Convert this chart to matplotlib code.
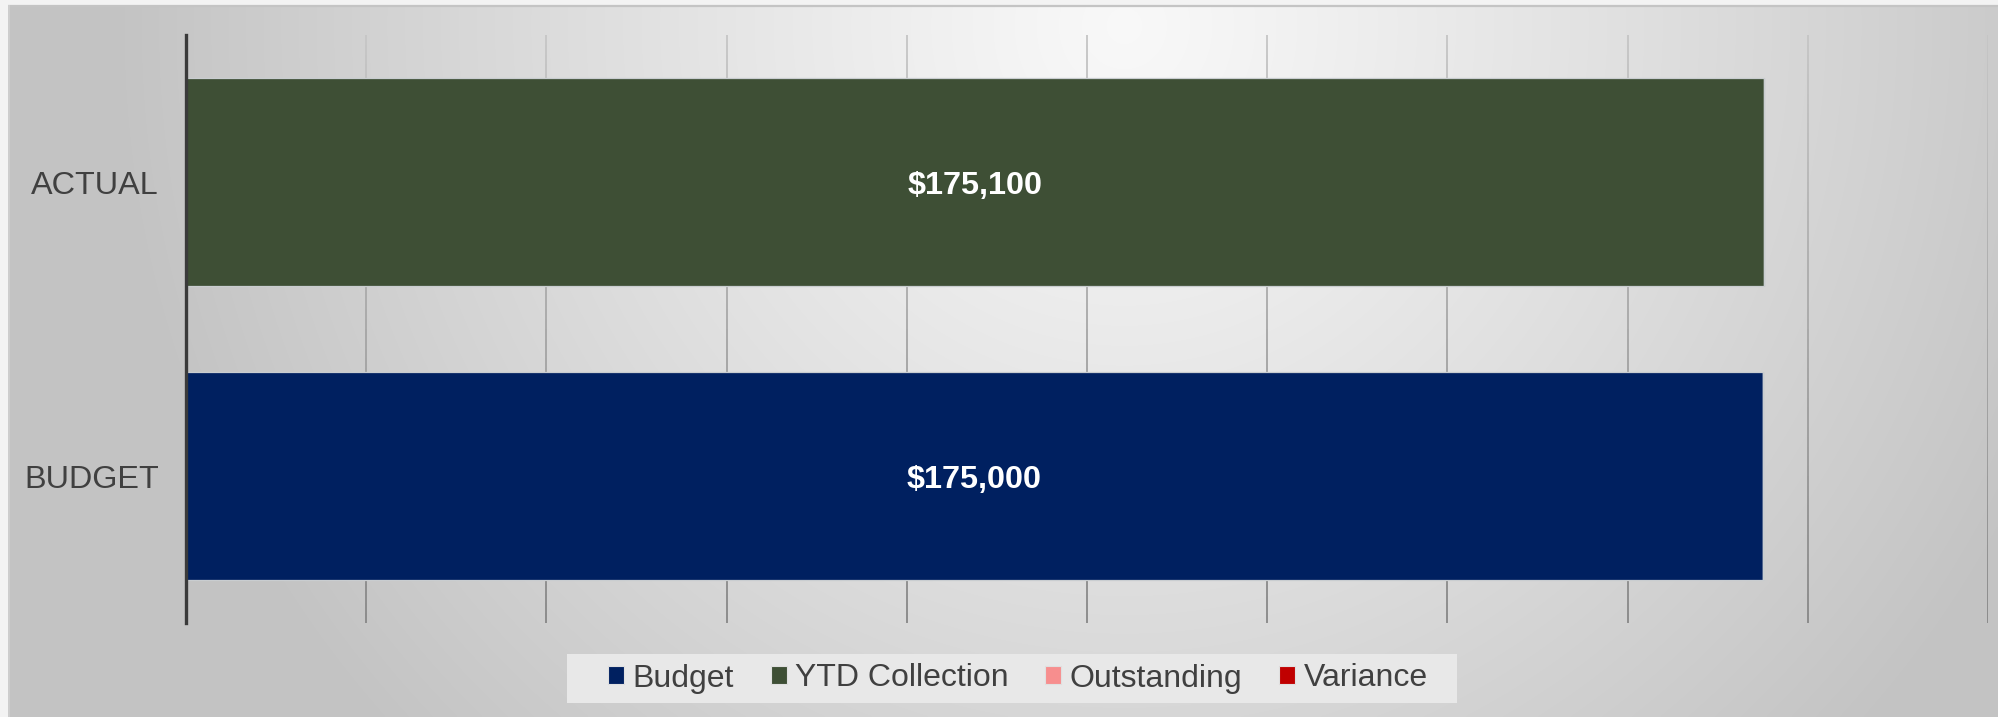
import numpy as np
import matplotlib
matplotlib.use("Agg")
import matplotlib.pyplot as plt
from matplotlib.patches import Patch, Rectangle
from matplotlib.collections import LineCollection
from matplotlib.colors import to_rgb

# ---- data ----
categories = ["BUDGET", "ACTUAL"]
series_names = ["Budget", "YTD Collection", "Outstanding", "Variance"]
budget = [175000, 0]
ytd_collection = [0, 175100]
outstanding = [0, 0]
variance = [0, 0]
series_colors = ["#002060", "#3E4F35", "#F78E8E", "#C00000"]

x_max = 200000
x_step = 20000

W, H, DPI = 1998, 717, 100
FS = 23.3
plt.rcParams["font.family"] = ["Liberation Sans", "DejaVu Sans"]

fig = plt.figure(figsize=(W / DPI, H / DPI), dpi=DPI, facecolor="#f3f3f3")

# ---- radial-gradient background panel ----
bg = fig.add_axes([0, 0, 1, 1], zorder=-10)
bg.set_xlim(0, W)
bg.set_ylim(H, 0)
bg.axis("off")
yy, xx = np.mgrid[0:H:2, 0:W:2]
xc, yc, rx, ry = 1120.0, 20.0, 1020.0, 1050.0
d = np.sqrt(((xx - xc) / rx) ** 2 + ((yy - yc) / ry) ** 2)
t = np.clip(d, 0, 1) ** 1.1
light, dark = 0.975, 0.765
g = light + (dark - light) * t
img = np.dstack([g, g, g])
bg.imshow(img, extent=[8, W, H, 5], interpolation="bilinear", aspect="auto")
bg.plot([8, W], [5.5, 5.5], color="#c4c4c4", lw=1.6, solid_capstyle="butt")
bg.plot([8.5, 8.5], [5, H], color="#d0d0d0", lw=1.2, solid_capstyle="butt")

# ---- chart axes ----
ax_left, ax_right, ax_top, ax_bot = 186, 1988, 35, 623
ax = fig.add_axes([ax_left / W, 1 - ax_bot / H,
                   (ax_right - ax_left) / W, (ax_bot - ax_top) / H])
ax.set_facecolor("none")
ax.set_xlim(0, x_max)
ax.set_ylim(-0.5, len(categories) - 0.5)

# vertical gridlines, shaded lighter toward the top
n_seg = 60
ys = np.linspace(-0.5, len(categories) - 0.5, n_seg + 1)
top_c, bot_c = np.array(to_rgb("#c6c6c6")), np.array(to_rgb("#868686"))
segs, cols = [], []
for gx in np.arange(x_step, x_max + 1, x_step):
    for i in range(n_seg):
        segs.append([(gx, ys[i]), (gx, ys[i + 1])])
        f = (ys[i] + ys[i + 1]) / 2
        frac = (f + 0.5) / len(categories)
        cols.append(bot_c + (top_c - bot_c) * frac)
ax.add_collection(LineCollection(segs, colors=cols, linewidths=1.3, zorder=1))

# stacked horizontal bars
ypos = np.arange(len(categories))
left = np.zeros(len(categories))
all_series = [budget, ytd_collection, outstanding, variance]
cap_half = 0.716 * FS / 2
for name, vals, col in zip(series_names, all_series, series_colors):
    vals = np.asarray(vals, dtype=float)
    bars = ax.barh(ypos, vals, left=left, height=0.71, color=col,
                   edgecolor="#c9cdd0", linewidth=0.9, zorder=3, label=name)
    for rect, v in zip(bars, vals):
        if v > 0:
            ax.annotate(f"${v:,.0f}",
                        (rect.get_x() + rect.get_width() / 2,
                         rect.get_y() + rect.get_height() / 2),
                        xytext=(0, -cap_half), textcoords="offset points",
                        ha="center", va="baseline", color="white",
                        fontsize=FS, fontweight="bold", zorder=5)
    left = left + vals

ax.set_yticks(ypos)
ax.set_yticklabels(categories, fontsize=FS, color="#404040")
ax.tick_params(axis="y", length=0, pad=19.5)
ax.set_xticks([])
for side in ["top", "right", "bottom"]:
    ax.spines[side].set_visible(False)
ax.spines["left"].set_color("#3a3a3a")
ax.spines["left"].set_linewidth(2.4)
ax.spines["left"].set_zorder(6)

# legend (frame drawn separately for uneven padding)
handles = [Patch(facecolor=c, edgecolor="#e0e0e0", linewidth=0.8) for c in series_colors]
leg = fig.legend(handles, series_names, loc="center",
                 bbox_to_anchor=(1018 / W, 1 - 678.5 / H), ncol=4,
                 fontsize=23.0, frameon=False,
                 handlelength=0.5, handleheight=0.5, handletextpad=0.26,
                 columnspacing=1.15, borderpad=0, borderaxespad=0)
for txt in leg.get_texts():
    txt.set_color("#404040")

fig.canvas.draw()
bb = leg.get_window_extent()
pad_l, pad_r = 41, 29
box_h = 49
cy = (bb.y0 + bb.y1) / 2
fig.patches.append(Rectangle(((bb.x0 - pad_l) / W, (cy - box_h / 2) / H),
                             (bb.width + pad_l + pad_r) / W, box_h / H,
                             transform=fig.transFigure, facecolor="#e8e8e8",
                             edgecolor="none", zorder=-5))

fig.savefig("out.png", dpi=DPI, facecolor=fig.get_facecolor())
